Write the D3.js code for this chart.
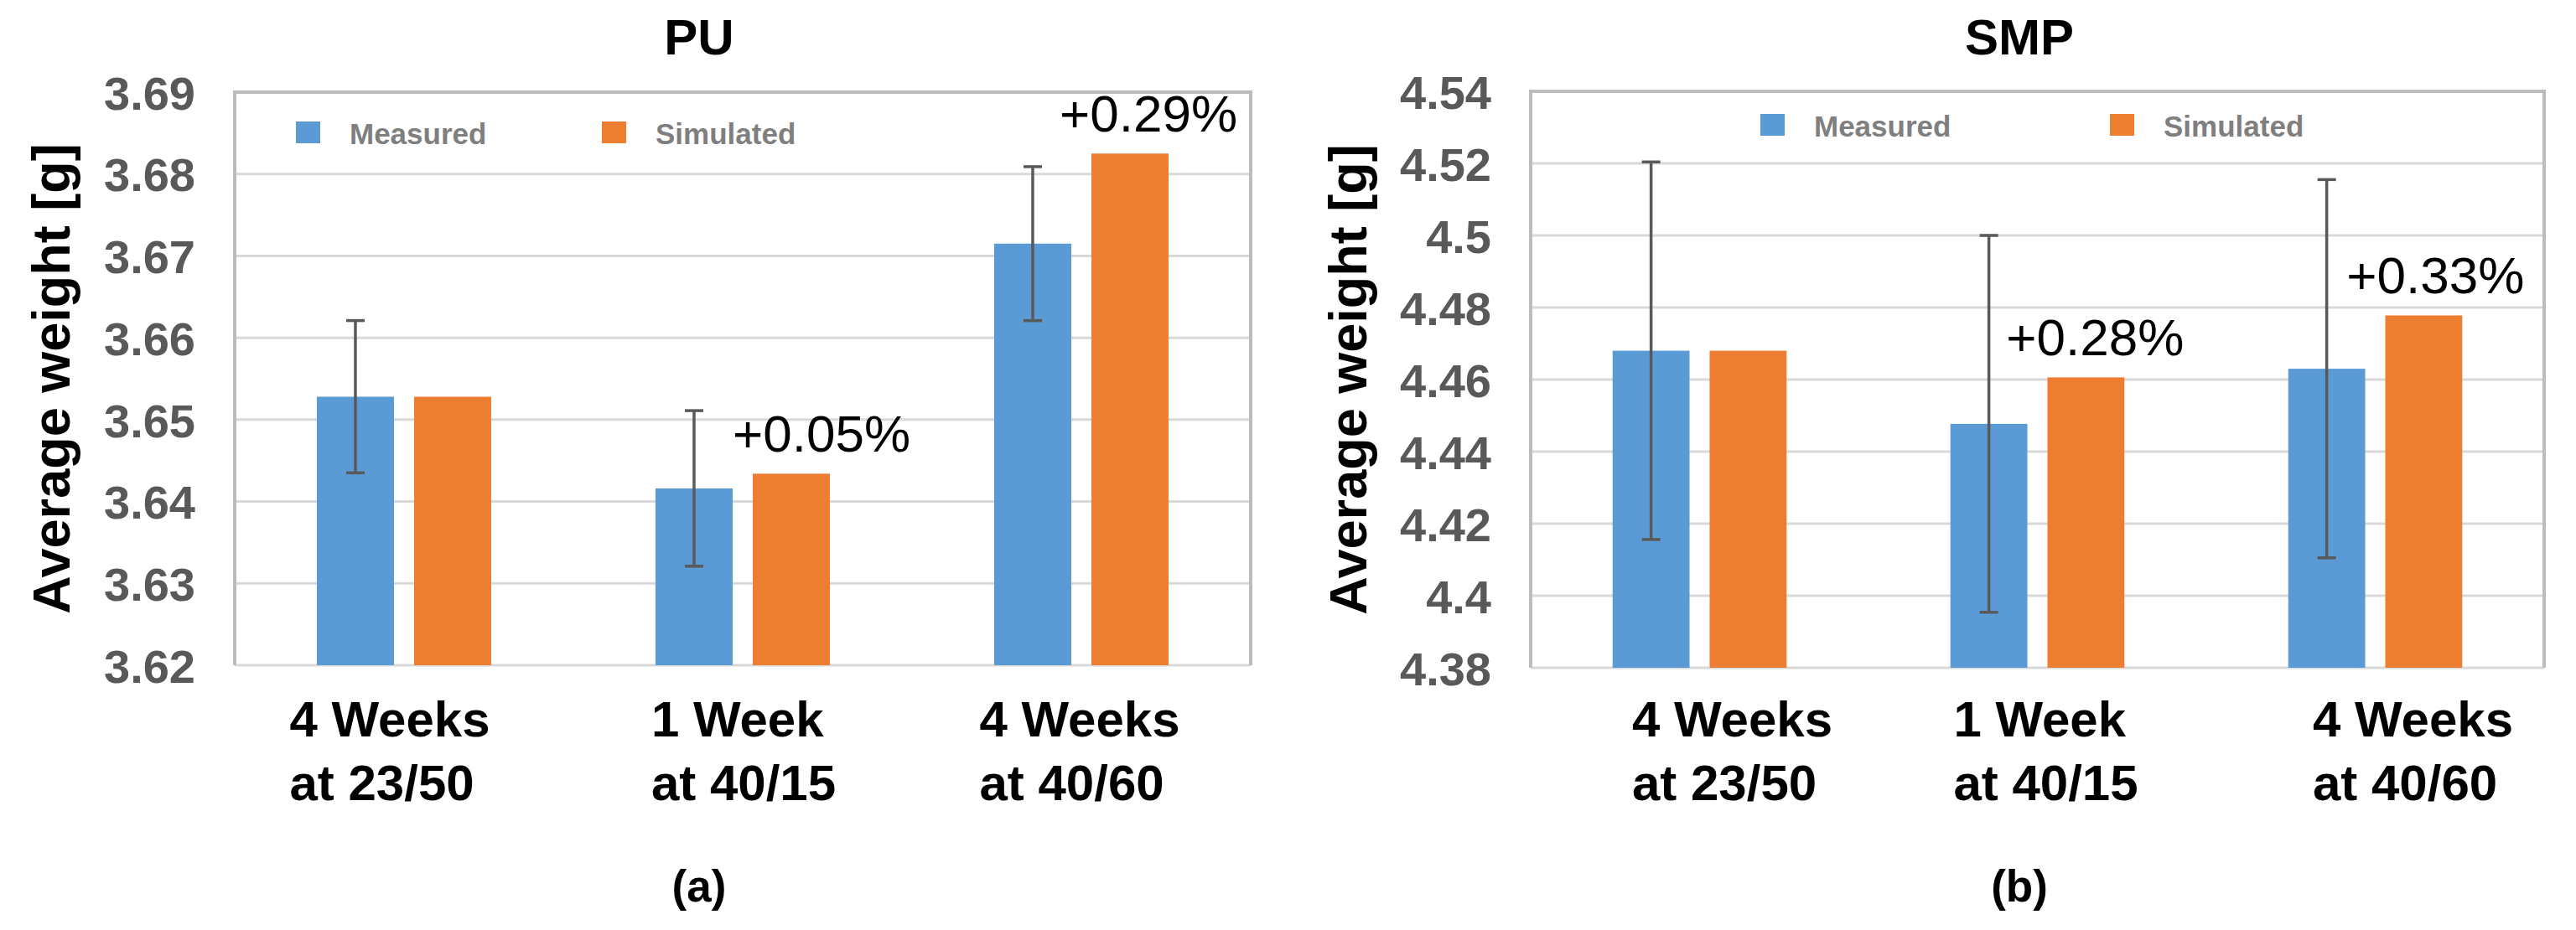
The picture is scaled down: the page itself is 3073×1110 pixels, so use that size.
<!DOCTYPE html>
<html>
<head>
    <meta charset="utf-8">
    <title>PU / SMP average weight</title>
    <script src="https://d3js.org/d3.v7.min.js"></script>
    <style>
        body { margin: 0; background: #fff; }
        text { font-family: "Liberation Sans", Arial, sans-serif; }
    </style>
</head>
<body>
<svg id="chart" width="3073" height="1110"></svg>
<script>
    // categories and series
    var categories = [["4 Weeks", "at 23/50"], ["1 Week", "at 40/15"], ["4 Weeks", "at 40/60"]];
    var series = ["Measured", "Simulated"];

    // PU values (g)
    var puMeasured = [3.6528, 3.6416, 3.6715];
    var puSimulated = [3.6528, 3.6434, 3.6825];
    var puError = [0.0093, 0.0095, 0.0094];
    var puLabels = ["", "+0.05%", "+0.29%"];
    var puTicks = [3.62, 3.63, 3.64, 3.65, 3.66, 3.67, 3.68, 3.69];

    // SMP values (g)
    var smpMeasured = [4.4680, 4.4477, 4.4630];
    var smpSimulated = [4.4680, 4.4606, 4.4778];
    var smpError = [0.0524, 0.0523, 0.0525];
    var smpLabels = ["", "+0.28%", "+0.33%"];
    var smpTicks = [4.38, 4.40, 4.42, 4.44, 4.46, 4.48, 4.50, 4.52, 4.54];

    var colors = { "Measured": "#5b9bd5", "Simulated": "#ed7d31" };

    // layout of the two panels
    var panels = [
        {
            title: "PU", sub: "(a)", measured: puMeasured, simulated: puSimulated,
            err: puError, labels: puLabels, ticks: puTicks,
            left: 280, right: 1492, top: 110, bottom: 794,
            titleX: 834, yTitleX: 83, tickX: 233,
            legend: [353, 718], legendY: 145,
            catNudge: [-17, 1, -2], labelDx: [0, 36, 22]
        },
        {
            title: "SMP", sub: "(b)", measured: smpMeasured, simulated: smpSimulated,
            err: smpError, labels: smpLabels, ticks: smpTicks,
            left: 1826, right: 3035, top: 109, bottom: 797,
            titleX: 2409, yTitleX: 1630, tickX: 1779,
            legend: [2100, 2517], legendY: 136,
            catNudge: [39, 10, 45], labelDx: [0, 11, 14]
        }
    ];

    var svg = d3.select("#chart");
    svg.append("rect").attr("width", 3073).attr("height", 1110).attr("fill", "#fff");

    var fmt = function (v) { return String(+v.toFixed(2)); };

    panels.forEach(function (p) {
        var g = svg.append("g");

        var y = d3.scaleLinear()
            .domain([p.ticks[0], p.ticks[p.ticks.length - 1]])
            .range([p.bottom, p.top]);

        var x0 = d3.scaleBand()
            .domain(d3.range(categories.length))
            .range([p.left, p.right]);

        var groupW = x0.bandwidth() * 0.515;
        var x1 = d3.scaleBand()
            .domain(series)
            .range([(x0.bandwidth() - groupW) / 2, (x0.bandwidth() + groupW) / 2])
            .paddingInner(0.207);

        // gridlines
        g.append("g").selectAll("line")
            .data(p.ticks)
            .enter().append("line")
            .attr("x1", p.left).attr("x2", p.right)
            .attr("y1", d => y(d)).attr("y2", d => y(d))
            .attr("stroke", "#d9d9d9")
            .attr("stroke-width", 3);

        // plot border (left, top, right)
        g.append("path")
            .attr("d", "M" + p.left + "," + p.bottom + "V" + p.top + "H" + p.right + "V" + p.bottom)
            .attr("fill", "none")
            .attr("stroke", "#bcbcbc")
            .attr("stroke-width", 4);

        // y axis labels
        var yAxis = d3.axisLeft(y).tickValues(p.ticks).tickFormat(fmt).tickSize(0).tickPadding(0);
        var ax = g.append("g")
            .attr("transform", "translate(" + p.tickX + ",0)")
            .call(yAxis);
        ax.select(".domain").remove();
        ax.selectAll("text")
            .attr("fill", "#595959")
            .attr("font-size", 56)
            .attr("font-weight", "bold")
            .attr("dy", "0.36em");

        // bars
        var rows = categories.map(function (c, i) {
            return { i: i, vals: [p.measured[i], p.simulated[i]] };
        });

        var grp = g.append("g").selectAll("g")
            .data(rows)
            .enter().append("g")
            .attr("transform", d => "translate(" + x0(d.i) + ",0)");

        grp.selectAll("rect")
            .data(d => series.map((s, k) => ({ s: s, v: d.vals[k] })))
            .enter().append("rect")
            .attr("x", d => x1(d.s))
            .attr("width", x1.bandwidth())
            .attr("y", d => y(d.v))
            .attr("height", d => p.bottom - y(d.v))
            .attr("fill", d => colors[d.s]);

        // error bars on measured
        var capW = 22;
        var eb = g.append("g").selectAll("g")
            .data(rows)
            .enter().append("g")
            .attr("stroke", "#595959")
            .attr("stroke-width", 3.5);
        eb.append("line")
            .attr("x1", d => x0(d.i) + x1("Measured") + x1.bandwidth() / 2)
            .attr("x2", d => x0(d.i) + x1("Measured") + x1.bandwidth() / 2)
            .attr("y1", d => y(p.measured[d.i] + p.err[d.i]))
            .attr("y2", d => y(p.measured[d.i] - p.err[d.i]));
        [1, -1].forEach(function (sgn) {
            eb.append("line")
                .attr("x1", d => x0(d.i) + x1("Measured") + x1.bandwidth() / 2 - capW / 2)
                .attr("x2", d => x0(d.i) + x1("Measured") + x1.bandwidth() / 2 + capW / 2)
                .attr("y1", d => y(p.measured[d.i] + sgn * p.err[d.i]))
                .attr("y2", d => y(p.measured[d.i] + sgn * p.err[d.i]));
        });

        // percentage labels
        g.append("g").selectAll("text")
            .data(rows.filter(d => p.labels[d.i] !== ""))
            .enter().append("text")
            .attr("x", d => x0(d.i) + x1("Simulated") + x1.bandwidth() / 2 + p.labelDx[d.i])
            .attr("y", d => y(p.simulated[d.i]) - 26)
            .attr("text-anchor", "middle")
            .attr("font-size", 62)
            .attr("fill", "#000")
            .text(d => p.labels[d.i]);

        // category labels (two lines, left aligned, block centred)
        var cat = g.append("g").selectAll("text")
            .data(rows)
            .enter().append("text")
            .attr("font-size", 60)
            .attr("font-weight", "bold")
            .attr("fill", "#000");
        cat.each(function (d) {
            var t = d3.select(this);
            t.selectAll("tspan")
                .data(categories[d.i])
                .enter().append("tspan")
                .attr("y", (s, k) => 879 + k * 76)
                .text(s => s);
            var w = 0;
            t.selectAll("tspan").each(function () { w = Math.max(w, this.getComputedTextLength()); });
            var cx = x0(d.i) + x0.bandwidth() / 2 + p.catNudge[d.i] - w / 2;
            t.selectAll("tspan").attr("x", cx);
        });

        // legend
        series.forEach(function (s, k) {
            g.append("rect")
                .attr("x", p.legend[k]).attr("y", p.legendY)
                .attr("width", 29).attr("height", 26)
                .attr("fill", colors[s]);
            g.append("text")
                .attr("x", p.legend[k] + 64)
                .attr("y", p.legendY + 27)
                .attr("font-size", 35)
                .attr("font-weight", "bold")
                .attr("fill", "#7f7f7f")
                .text(s);
        });

        // titles
        g.append("text")
            .attr("x", p.titleX).attr("y", 65)
            .attr("text-anchor", "middle")
            .attr("font-size", 60).attr("font-weight", "bold")
            .text(p.title);
        g.append("text")
            .attr("x", p.titleX).attr("y", 1076)
            .attr("text-anchor", "middle")
            .attr("font-size", 53).attr("font-weight", "bold")
            .text(p.sub);
        g.append("text")
            .attr("transform", "translate(" + p.yTitleX + "," + ((p.top + p.bottom) / 2) + ") rotate(-90)")
            .attr("text-anchor", "middle")
            .attr("font-size", 63).attr("font-weight", "bold")
            .attr("fill", "#000")
            .text("Average weight [g]");
    });
</script>
</body>
</html>
